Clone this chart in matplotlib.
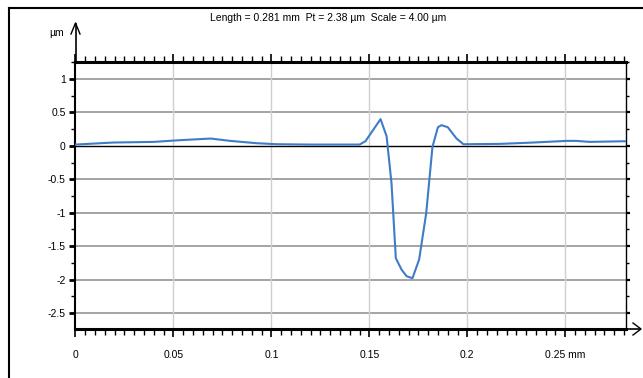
import numpy as np
import matplotlib.pyplot as plt
from matplotlib.lines import Line2D
from matplotlib.ticker import MultipleLocator

# profile (x in mm, z in um)
x_mm = [0.0, 0.019, 0.04, 0.053, 0.069, 0.079, 0.0925, 0.103, 0.12, 0.145,
        0.148, 0.1557, 0.1588, 0.1613, 0.1635, 0.1664, 0.169, 0.172, 0.1754,
        0.179, 0.1822, 0.185, 0.1868, 0.190, 0.1945, 0.198, 0.2166, 0.2334,
        0.2506, 0.2557, 0.2625, 0.281]
z_um = [0.02, 0.05, 0.06, 0.085, 0.11, 0.075, 0.04, 0.025, 0.02, 0.02,
        0.07, 0.40, 0.145, -0.56, -1.68, -1.85, -1.95, -1.98, -1.70,
        -1.01, -0.015, 0.28, 0.31, 0.28, 0.11, 0.025, 0.03, 0.05,
        0.075, 0.075, 0.06, 0.07]

x_ticks = [0, 0.05, 0.1, 0.15, 0.2, 0.25]
x_labels = ["0", "0.05", "0.1", "0.15", "0.2", "0.25 mm"]
y_ticks = [1, 0.5, 0, -0.5, -1, -1.5, -2, -2.5]
y_labels = ["1", "0.5", "0", "-0.5", "-1", "-1.5", "-2", "-2.5"]
title = "Length = 0.281 mm  Pt = 2.38 µm  Scale = 4.00 µm"

plt.rcParams['font.family'] = ["Liberation Sans Narrow", "Liberation Sans", "DejaVu Sans"]

fig = plt.figure(figsize=(6.43, 3.78), dpi=100)
ax = fig.add_axes([0.1174, 0.1296, 0.8562, 0.7072])

# grid
for y in y_ticks:
    if y == 0:
        continue
    ax.axhline(y, color="#a4a4a4", lw=1.4, zorder=1)
for x in x_ticks[1:]:
    ax.axvline(x, color="#cfcfcf", lw=1.0, zorder=1)
ax.axhline(0, color="black", lw=1.0, zorder=2)

ax.plot(x_mm, z_um, color="#3f7cc8", lw=1.5, zorder=3)

ax.set_xlim(0, 0.281)
ax.set_ylim(-2.74, 1.26)

ax.set_xticks(x_ticks)
ax.set_xticklabels(x_labels)
ax.xaxis.set_minor_locator(MultipleLocator(0.005))
ax.set_yticks(y_ticks)
ax.set_yticklabels(y_labels)
ax.yaxis.set_minor_locator(MultipleLocator(0.25))

ax.tick_params(axis="x", which="major", direction="out", length=6, width=1.2,
               top=True, bottom=True, labelsize=7.5, pad=9)
ax.tick_params(axis="x", which="minor", direction="out", length=4, width=1.0,
               top=True, bottom=True)
ax.tick_params(axis="y", which="major", direction="out", length=4, width=2.0,
               left=True, right=True, labelsize=7.5, pad=3)
ax.tick_params(axis="y", which="minor", direction="out", length=3, width=1.0,
               left=True, right=True)

# smaller marks on the right edge
for t in ax.yaxis.get_major_ticks():
    t.tick2line.set_markersize(3)
    t.tick2line.set_markeredgewidth(1.6)
for t in ax.yaxis.get_minor_ticks():
    t.tick2line.set_markersize(2)

ax.spines['top'].set_linewidth(2.2)
ax.spines['bottom'].set_linewidth(2.2)
ax.spines['left'].set_linewidth(1.5)
ax.spines['right'].set_linewidth(1.0)

# axis arrows
W, H = 643.0, 378.0
fig.add_artist(Line2D([75.5 / W, 75.5 / W], [(H - 62) / H, (H - 24) / H],
                      color="black", lw=1.2))
fig.add_artist(Line2D([71 / W, 75.5 / W, 80 / W],
                      [(H - 34) / H, (H - 23) / H, (H - 34) / H],
                      color="black", lw=1.0))
fig.add_artist(Line2D([626 / W, 640 / W], [(H - 329) / H, (H - 329) / H],
                      color="black", lw=1.2))
fig.add_artist(Line2D([633 / W, 641 / W, 633 / W],
                      [(H - 323) / H, (H - 329) / H, (H - 335) / H],
                      color="black", lw=1.0))

fig.text(57 / W, (H - 33) / H, "µm", fontsize=7.5, ha="center", va="center")
fig.text(328 / W, (H - 18) / H, title, fontsize=7.5, ha="center", va="center")

# outer frame (left and top edges)
fig.add_artist(Line2D([9 / W, 9 / W], [0, (H - 8) / H], color="black", lw=1.5))
fig.add_artist(Line2D([9 / W, 1], [(H - 8) / H, (H - 8) / H], color="black", lw=1.5))

fig.savefig("out.png", dpi=100)
